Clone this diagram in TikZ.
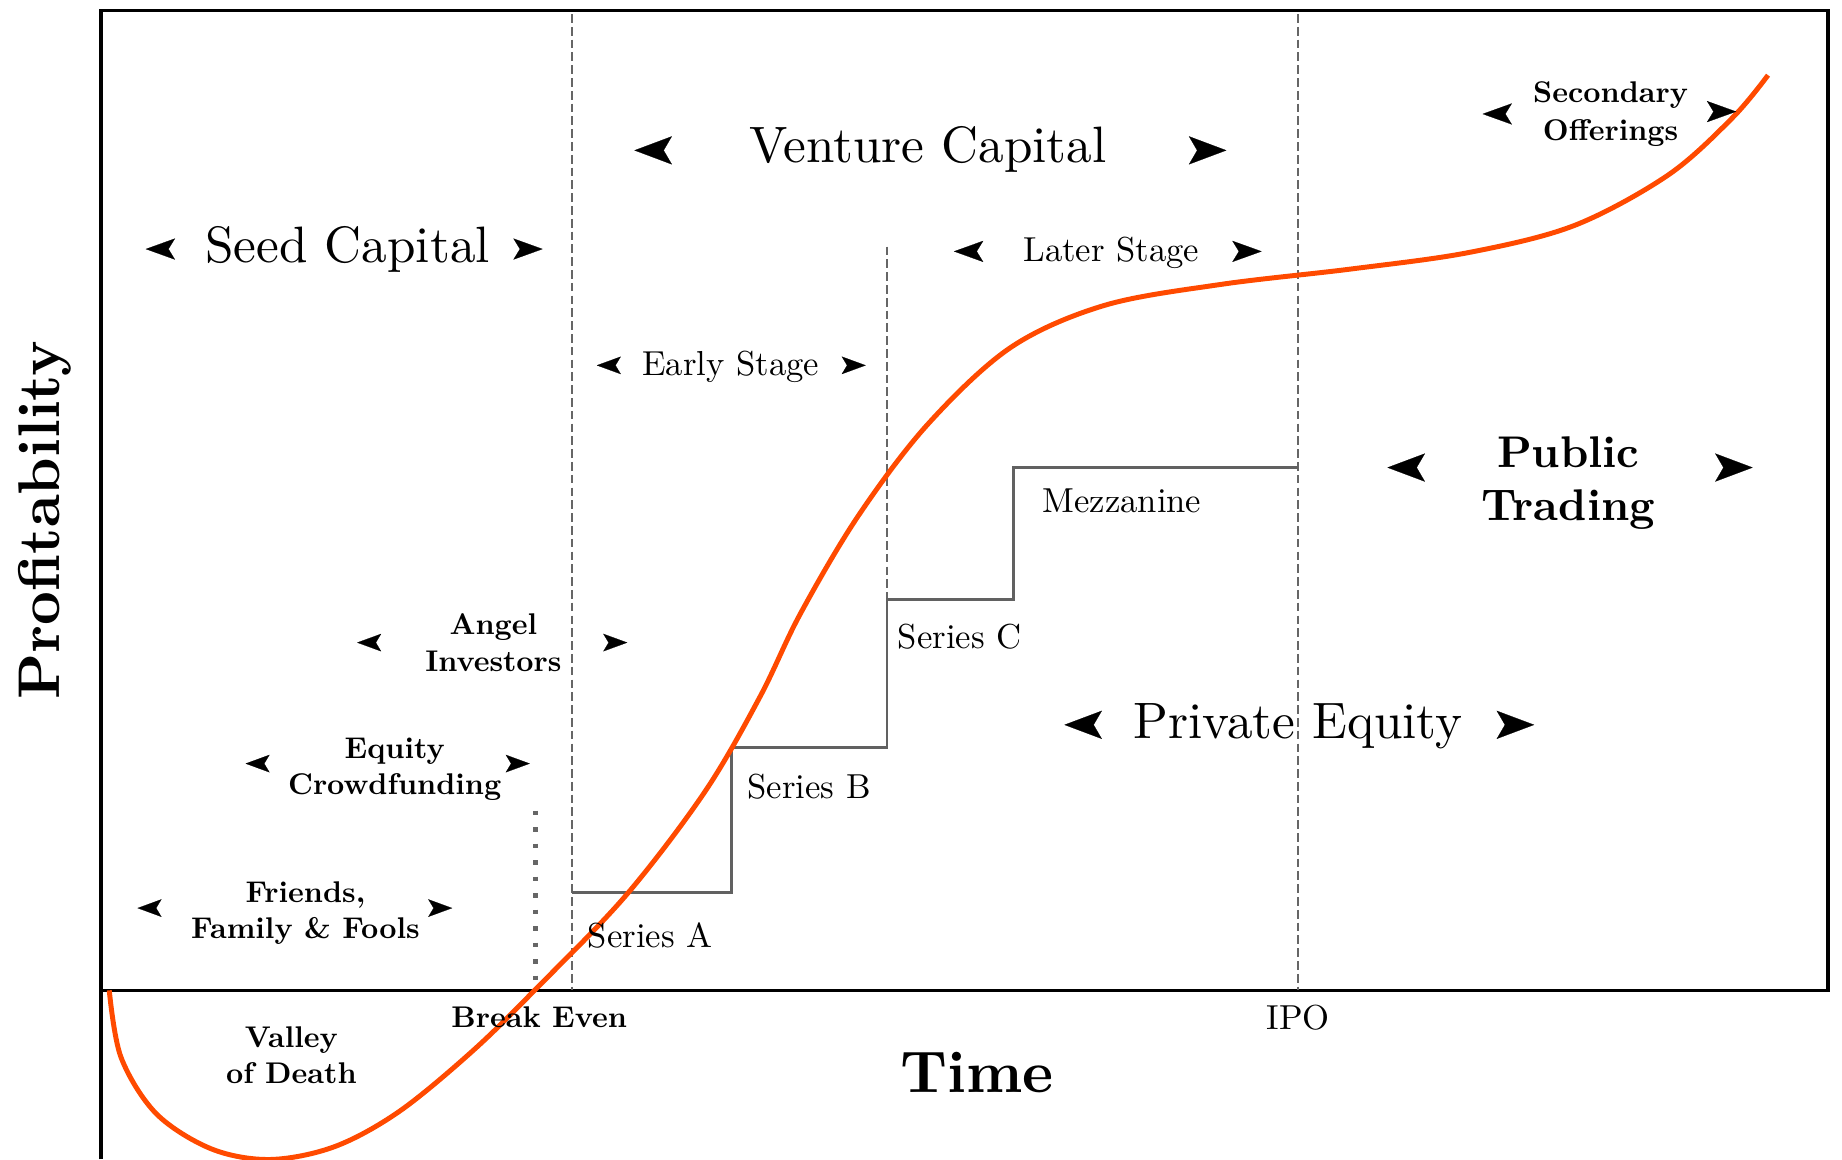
\documentclass[tikz,border=0pt]{standalone}
\usepackage{fontspec}
\setmainfont{lmroman10-regular.otf}[BoldFont=lmroman10-bold.otf]
\usepackage{tikz}
\usetikzlibrary{arrows.meta}
\definecolor{curvecol}{HTML}{FF4A00}

\begin{document}
\begin{tikzpicture}[x=0.02cm, y=-0.02cm,
  frame/.style={line width=1.6pt},
  guide/.style={black!60, line width=1pt, dash pattern=on 4.2pt off 2pt},
  dots/.style={black!60, line width=2.3pt, dash pattern=on 2.3pt off 5.7pt},
  stair/.style={black!62, line width=1.4pt},
  curve/.style={curvecol, line width=2.4pt},
  lbl/.style={font=\bfseries\fontsize{14.5}{17.5}\selectfont, align=center, inner sep=0pt},
  stg/.style={font=\fontsize{16.8}{19}\selectfont, inner sep=0pt},
  big/.style={font=\fontsize{24.8}{28}\selectfont, align=center, inner sep=0pt},
  axl/.style={font=\bfseries\fontsize{28.5}{31}\selectfont, inner sep=0pt},
  tipl/.style={white, line width=0.1pt, -{Stealth[color=black, length=0.64cm, width=0.48cm, inset=0.14cm]}},
  tipm/.style={white, line width=0.1pt, -{Stealth[color=black, length=0.50cm, width=0.36cm, inset=0.11cm]}},
  tips/.style={white, line width=0.1pt, -{Stealth[color=black, length=0.41cm, width=0.30cm, inset=0.09cm]}}]
\useasboundingbox (0,0) rectangle (1568,987);
\draw[frame] (86,987) -- (86,9) -- (1556,9) -- (1556,843) -- (86,843);
\draw[guide] (487,12) -- (487,843);
\draw[guide] (755,210) -- (755,510);
\draw[guide] (1105,12) -- (1105,843);
\draw[dots] (456,690) -- (456,843);
\draw[stair] (487,760) -- (623,760) -- (623,636) -- (755,636) -- (755,510) -- (863,510) -- (863,398) -- (1105,398);
\draw[curve] plot[smooth, tension=0.55] coordinates {
  (93,843) (103,900) (133,948) (180,978) (230,987) (285,976) (340,946) (403,894)
  (458,840) (533,762) (600,674) (647,593) (681,523) (730,440) (789,362) (860,296)
  (940,260) (1040,242) (1150,229) (1250,215) (1340,192) (1420,149) (1475,100) (1505,64)};
\node[axl, rotate=90] (yl) at (38,443) {Profitability};
\node[axl] (xl) at (832,913) {Time};
\node[big] (seed) at (296,212) {Seed Capital};
\node[big] (vc) at (790,127) {Venture Capital};
\node[big] (pe) at (1105,618) {Private Equity};
\node[big, font=\bfseries\fontsize{21.5}{25.6}\selectfont] (pub) at (1335,411) {Public\\Trading};
\node[stg] (early) at (622,312) {Early Stage};
\node[stg] (later) at (946,215) {Later Stage};
\node[lbl, font=\bfseries\fontsize{14.5}{18.2}\selectfont] (sec) at (1371,97) {Secondary\\Offerings};
\node[lbl] (angel) at (420,547) {Angel\\Investors};
\node[lbl] (ecf) at (336,655) {Equity\\Crowdfunding};
\node[lbl] (fff) at (260,777) {Friends,\\Family \& Fools};
\node[lbl] (vod) at (248,898) {Valley\\of Death};
\node[lbl] (be) at (459,866) {Break Even};
\node[stg] (ipo) at (1105,866) {IPO};
\node[stg, anchor=west] (sa) at (500,796) {Series A};
\node[stg, anchor=west] (sb) at (636,670) {Series B};
\node[stg, anchor=west] (sc) at (764,542) {Series C};
\node[stg, anchor=west] (mz) at (887,426) {Mezzanine};
\draw[tipm] (150,212) -- (124,212);  \draw[tipm] (436,212) -- (462,212);
\draw[tipl] (572,128) -- (540,128);  \draw[tipl] (1012,128) -- (1044,128);
\draw[tips] (528,311) -- (508,311);  \draw[tips] (717,311) -- (737,311);
\draw[tipm] (836,214) -- (812,214);  \draw[tipm] (1050,214) -- (1074,214);
\draw[tipm] (1286,97) -- (1262,97);  \draw[tipm] (1454,95) -- (1478,95);
\draw[tipl] (1213,398) -- (1181,398); \draw[tipl] (1460,398) -- (1492,398);
\draw[tipl] (938,617) -- (906,617);  \draw[tipl] (1274,617) -- (1306,617);
\draw[tips] (324,547) -- (304,547);  \draw[tips] (514,547) -- (534,547);
\draw[tips] (230,650) -- (209,650);  \draw[tips] (430,650) -- (451,650);
\draw[tips] (138,773) -- (117,773);  \draw[tips] (364,773) -- (385,773);
\end{tikzpicture}
\end{document}
